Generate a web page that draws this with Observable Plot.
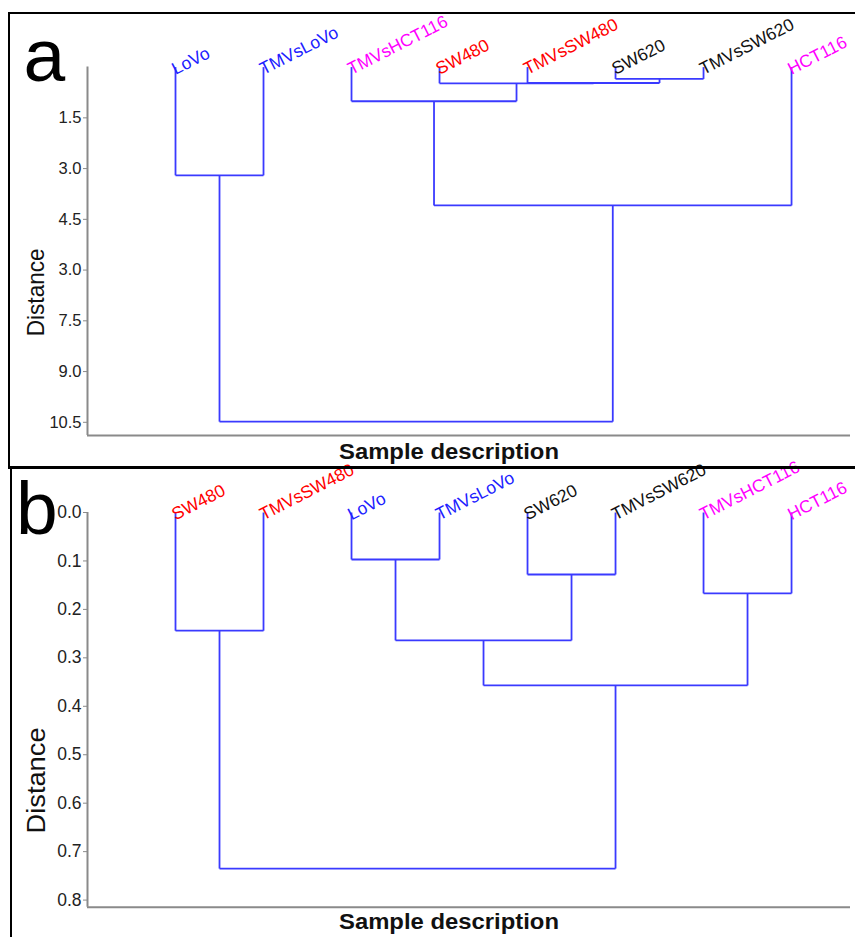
<!DOCTYPE html>
<html>
<head>
<meta charset="utf-8">
<script src="https://cdn.jsdelivr.net/npm/d3@7"></script>
<script src="https://cdn.jsdelivr.net/npm/@observablehq/plot@0.6"></script>
<style>
  html, body { margin: 0; padding: 0; background: #fff; }
  #wrap { position: relative; width: 855px; height: 937px; overflow: hidden; font-family: "Liberation Sans", Arial, sans-serif; }
  .panel { position: absolute; left: 0; }
  .line { position: absolute; background: #000; z-index: 5; }
</style>
</head>
<body>
<div id="wrap">
  <div id="pa" class="panel" style="top:0"></div>
  <div id="pb" class="panel" style="top:468px"></div>
  <div class="line" style="left:8px;top:12px;width:2px;height:456px"></div>
  <div class="line" style="left:8px;top:12px;width:847px;height:2px"></div>
  <div class="line" style="left:8px;top:466px;width:847px;height:2.5px"></div>
  <div class="line" style="left:10px;top:467px;width:2px;height:470px"></div>
</div>
<script>
// ---------- data ----------
const leavesA = ["LoVo", "TMVsLoVo", "TMVsHCT116", "SW480", "TMVsSW480", "SW620", "TMVsSW620", "HCT116"];
const colorsA = ["#2020ff", "#2020ff", "#ff00ff", "#ff0000", "#ff0000", "#111111", "#111111", "#ff00ff"];
// merges: [child a, child b, distance]; indices >= leaves.length refer to earlier merges
const mergesA = [
  [5, 6, 0.35],
  [4, 8, 0.47],
  [3, 9, 0.48],
  [2, 10, 1.01],
  [0, 1, 3.2],
  [11, 7, 4.09],
  [12, 13, 10.48]
];
const ticksA = [1.5, 3.0, 4.5, 6.0, 7.5, 9.0, 10.5];
const tickLabelsA = ["1.5", "3.0", "4.5", "3.0", "7.5", "9.0", "10.5"];

const leavesB = ["SW480", "TMVsSW480", "LoVo", "TMVsLoVo", "SW620", "TMVsSW620", "TMVsHCT116", "HCT116"];
const colorsB = ["#ff0000", "#ff0000", "#2020ff", "#2020ff", "#111111", "#111111", "#ff00ff", "#ff00ff"];
const mergesB = [
  [2, 3, 0.097],
  [4, 5, 0.128],
  [6, 7, 0.167],
  [0, 1, 0.244],
  [8, 9, 0.264],
  [12, 10, 0.357],
  [11, 13, 0.735]
];
const ticksB = [0.0, 0.1, 0.2, 0.3, 0.4, 0.5, 0.6, 0.7, 0.8];
const tickLabelsB = ["0.0", "0.1", "0.2", "0.3", "0.4", "0.5", "0.6", "0.7", "0.8"];

const axisTitleY = "Distance";
const axisTitleX = "Sample description";

// ---------- helpers ----------
function dendroLinks(leaves, merges) {
  const xs = leaves.map((_, i) => i);
  const hs = leaves.map(() => 0);
  const segs = [];
  for (const [a, b, h] of merges) {
    segs.push({x1: xs[a], y1: hs[a], x2: xs[a], y2: h});
    segs.push({x1: xs[b], y1: hs[b], x2: xs[b], y2: h});
    segs.push({x1: xs[a], y1: h, x2: xs[b], y2: h});
    xs.push((xs[a] + xs[b]) / 2);
    hs.push(h);
  }
  return segs;
}

function panel(cfg) {
  const leafData = cfg.leaves.map((name, i) => ({i, name, color: cfg.colors[i]}));
  const links = dendroLinks(cfg.leaves, cfg.merges);
  const labelOf = new Map(cfg.ticks.map((t, i) => [t, cfg.tickLabels[i]]));
  const font = "'Liberation Sans', Arial, sans-serif";
  const chart = Plot.plot({
    width: 855,
    height: cfg.height,
    marginLeft: 87,
    marginRight: 5,
    marginTop: cfg.marginTop,
    marginBottom: cfg.marginBottom,
    style: {background: "none", overflow: "visible", fontFamily: font},
    x: {domain: [-1, 7.67], axis: null},
    y: {domain: [0, cfg.yMax], reverse: true, axis: null},
    color: {type: "identity"},
    marks: [
      Plot.ruleX([-1], {stroke: "#8a8a8a", strokeWidth: 2}),
      Plot.ruleY([cfg.yMax], {stroke: "#8a8a8a", strokeWidth: 2}),
      Plot.axisY({
        ticks: cfg.ticks,
        tickFormat: d => labelOf.get(d),
        tickSize: 4,
        tickPadding: 2,
        stroke: "#8a8a8a",
        fill: "#222",
        fontSize: cfg.tickFont,
        label: null
      }),
      Plot.link(links, {x1: "x1", y1: "y1", x2: "x2", y2: "y2", stroke: "#3a3aff", strokeWidth: 1.8}),
      Plot.text(leafData, {
        x: "i", y: () => 0, text: "name", fill: "color",
        rotate: -27, textAnchor: "start", lineAnchor: "bottom",
        dy: 8, fontSize: 17.5
      }),
      Plot.text([axisTitleY], {
        frameAnchor: "left", text: d => d, rotate: -90,
        dx: -51, dy: cfg.yTitleDy, fontSize: cfg.yTitleFont, fill: "#111",
        lineAnchor: "middle", textAnchor: "middle", className: "ytitle"
      }),
      Plot.text([axisTitleX], {
        frameAnchor: "bottom", text: d => d, dx: -20, dy: cfg.xTitleDy,
        fontSize: 22, fontWeight: "bold", fill: "#111",
        lineAnchor: "bottom", textAnchor: "middle", className: "xtitle"
      }),
      Plot.text([cfg.letter], {
        frameAnchor: "top-left", text: d => d, dx: cfg.letterDx, dy: cfg.letterDy,
        fontSize: 75, fill: "#000", lineAnchor: "bottom", textAnchor: "start"
      })
    ]
  });
  const yt = chart.querySelector(".ytitle text");
  if (yt) { yt.setAttribute("textLength", cfg.yTitleLen); yt.setAttribute("lengthAdjust", "spacingAndGlyphs"); }
  const xt = chart.querySelector(".xtitle text");
  if (xt) { xt.setAttribute("textLength", 220); xt.setAttribute("lengthAdjust", "spacingAndGlyphs"); }
  return chart;
}

document.getElementById("pa").appendChild(panel({
  leaves: leavesA, colors: colorsA, merges: mergesA,
  ticks: ticksA, tickLabels: tickLabelsA,
  height: 467, marginTop: 66.6, marginBottom: 32, yMax: 10.89,
  tickFont: 16.5, yTitleDy: 41, yTitleLen: 88, yTitleFont: 24, xTitleDy: 23,
  letter: "a", letterDx: -64, letterDy: 13.4
}));

document.getElementById("pb").appendChild(panel({
  leaves: leavesB, colors: colorsB, merges: mergesB,
  ticks: ticksB, tickLabels: tickLabelsB,
  height: 469, marginTop: 44, marginBottom: 30.3, yMax: 0.8147,
  tickFont: 17.5, yTitleDy: 70.6, yTitleLen: 106, yTitleFont: 25, xTitleDy: 22,
  letter: "b", letterDx: -71.5, letterDy: 21
}));
</script>
</body>
</html>
